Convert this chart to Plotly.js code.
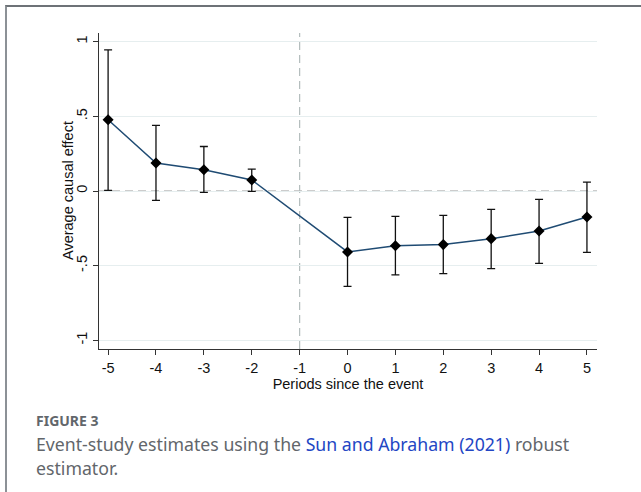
<!DOCTYPE html>
<html>
<head>
<meta charset="utf-8">
<script src="https://cdn.plot.ly/plotly-3.0.1.min.js"></script>
<style>
  html, body { margin: 0; padding: 0; background: #fff; }
  #wrap { position: relative; width: 641px; height: 492px; overflow: hidden; }
  #frame { position: absolute; left: 5px; top: 5px; width: 700px; height: 600px;
           border-top: 2px solid #6d7277; border-left: 2px solid #8c9196; }
  #chart { position: absolute; left: 0; top: 0; width: 641px; height: 492px; }
</style>
</head>
<body>
<div id="wrap">
  <div id="frame"></div>
  <div id="chart"></div>
</div>
<script>
// Data
const periods  = [-5, -4, -3, -2, 0, 1, 2, 3, 4, 5];
const estimate = [0.477, 0.187, 0.142, 0.074, -0.408, -0.366, -0.359, -0.319, -0.268, -0.174];
const ciHigh   = [0.945, 0.439, 0.298, 0.147, -0.177, -0.170, -0.163, -0.123, -0.056, 0.060];
const ciLow    = [0.004, -0.063, -0.009, -0.003, -0.638, -0.562, -0.553, -0.520, -0.484, -0.411];
const xTickVals = [-5, -4, -3, -2, -1, 0, 1, 2, 3, 4, 5];
const xTickText = ['-5', '-4', '-3', '-2', '-1', '0', '1', '2', '3', '4', '5'];
const yTickVals = [-1, -0.5, 0, 0.5, 1];
const yTickText = ['-1', '-.5', '0', '.5', '1'];

const errPlus  = ciHigh.map((h, i) => h - estimate[i]);
const errMinus = estimate.map((e, i) => e - ciLow[i]);

const axisFont = { family: 'Liberation Sans, Arial, sans-serif', size: 14.5, color: '#111' };

const trace = {
  type: 'scatter',
  mode: 'lines+markers',
  x: periods,
  y: estimate,
  line: { color: '#1f4b73', width: 1.5 },
  marker: { symbol: 'diamond', size: 8.5, color: '#000' },
  error_y: { type: 'data', symmetric: false, array: errPlus, arrayminus: errMinus,
             color: '#111', thickness: 1.3, width: 4 },
  showlegend: false,
  hoverinfo: 'x+y'
};

// paper coordinate helpers for caption placement
const plotL = 99, plotR = 597, plotT = 33, plotB = 349.3;
const px = v => (v - plotL) / (plotR - plotL);
const py = v => (plotB - v) / (plotB - plotT);

const captionFont = { family: 'Noto Sans, Open Sans, sans-serif', size: 17.7, color: '#62666b' };

const layout = {
  width: 641, height: 492,
  margin: { l: plotL, r: 641 - plotR, t: plotT, b: 492 - plotB, pad: 0 },
  paper_bgcolor: 'rgba(0,0,0,0)',
  plot_bgcolor: 'rgba(0,0,0,0)',
  xaxis: {
    range: [-5.19, 5.21],
    tickvals: xTickVals, ticktext: xTickText,
    ticks: 'outside', ticklen: 5, tickwidth: 1, tickcolor: '#333',
    showline: true, linecolor: '#333', linewidth: 1.2,
    showgrid: false, zeroline: false,
    tickfont: axisFont,
    title: { text: 'Periods since the event', font: axisFont, standoff: 0 },
    automargin: false
  },
  yaxis: {
    range: [-1.058, 1.058],
    tickvals: yTickVals, ticktext: yTickText,
    tickangle: -90,
    ticks: 'outside', ticklen: 5, tickwidth: 1, tickcolor: '#333',
    showline: true, linecolor: '#333', linewidth: 1.2,
    showgrid: true, gridcolor: '#e6eeef', gridwidth: 1,
    zeroline: false,
    tickfont: axisFont,
    automargin: false
  },
  shapes: [
    { type: 'line', xref: 'paper', yref: 'y', x0: 0, x1: 1, y0: 0, y1: 0,
      line: { color: '#9a9a9a', width: 1.2, dash: '8px,5px' }, layer: 'below' },
    { type: 'line', xref: 'x', yref: 'paper', x0: -1, x1: -1, y0: 0, y1: 1,
      line: { color: '#b3bcbc', width: 1.2, dash: '8px,5px' }, layer: 'below' }
  ],
  annotations: [
    { xref: 'paper', yref: 'y', x: px(68), y: 0, xanchor: 'center', yanchor: 'middle',
      textangle: -90, showarrow: false, text: 'Average causal effect', font: axisFont },
    { xref: 'paper', yref: 'paper', x: px(34), y: py(421), xanchor: 'left', yanchor: 'middle',
      showarrow: false, text: '<b>FIGURE 3</b>',
      font: { family: 'Noto Sans, Open Sans, sans-serif', size: 14, color: '#62666b' } },
    { xref: 'paper', yref: 'paper', x: px(34), y: py(444), xanchor: 'left', yanchor: 'middle',
      showarrow: false,
      text: 'Event-study estimates using the <span style="color:#2346c4">Sun and Abraham (2021)</span> robust',
      font: captionFont },
    { xref: 'paper', yref: 'paper', x: px(34), y: py(468), xanchor: 'left', yanchor: 'middle',
      showarrow: false, text: 'estimator.', font: captionFont }
  ]
};

Plotly.newPlot('chart', [trace], layout, { staticPlot: true, displayModeBar: false });
</script>
</body>
</html>
